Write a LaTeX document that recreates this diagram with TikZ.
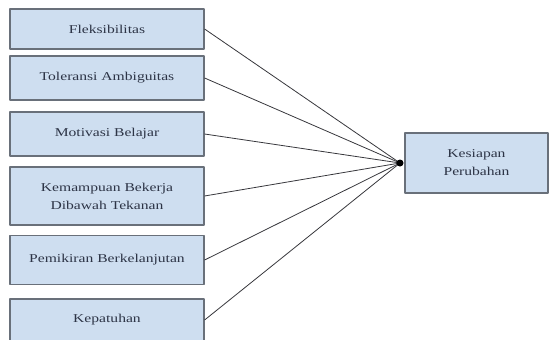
\documentclass[tikz,border=0pt]{standalone}
\usepackage{fontspec}
\newfontfamily\boxfont{Liberation Serif}[FakeStretch=1.3]
\definecolor{boxfill}{RGB}{206,222,240}
\definecolor{boxline}{RGB}{105,112,122}
\definecolor{boxtext}{RGB}{45,52,70}
\definecolor{linkcol}{RGB}{55,55,60}
\begin{document}
\begin{tikzpicture}[x=1pt,y=-1pt,line join=round,
	varbox/.style={draw=boxline,line width=1.2pt,fill=boxfill,text=boxtext,inner sep=0pt,
		align=center,font=\boxfont\fontsize{12}{18}\selectfont},
	link/.style={draw=linkcol,line width=0.8pt}]
	\useasboundingbox (0,0) rectangle (550,340);
	\clip (0,0) rectangle (550,340);
	% variabel bebas
	\node[varbox,minimum width=194pt,minimum height=40pt] (fleks) at (107,29) {Fleksibilitas};
	\node[varbox,minimum width=194pt,minimum height=44pt] (toler) at (107,78) {Toleransi Ambiguitas};
	\node[varbox,minimum width=194pt,minimum height=44pt] (motiv) at (107,134) {Motivasi Belajar};
	\node[varbox,minimum width=194pt,minimum height=58pt] (kemamp) at (107,196) {Kemampuan Bekerja\\Dibawah Tekanan};
	\node[varbox,minimum width=194pt,minimum height=49pt] (pemik) at (107,260) {Pemikiran Berkelanjutan};
	\node[varbox,minimum width=194pt,minimum height=42pt] (kepat) at (107,320) {Kepatuhan};
	% variabel terikat
	\node[varbox,minimum width=143pt,minimum height=60pt] (kesiap) at (476.5,163) {Kesiapan\\Perubahan};
	\coordinate (J) at (400,163);
	\foreach \n in {fleks,toler,motiv,kemamp,pemik,kepat}
		\draw[link] (\n.east)--(J);
	\fill[black] (J) circle(3.5pt);
\end{tikzpicture}
\end{document}
